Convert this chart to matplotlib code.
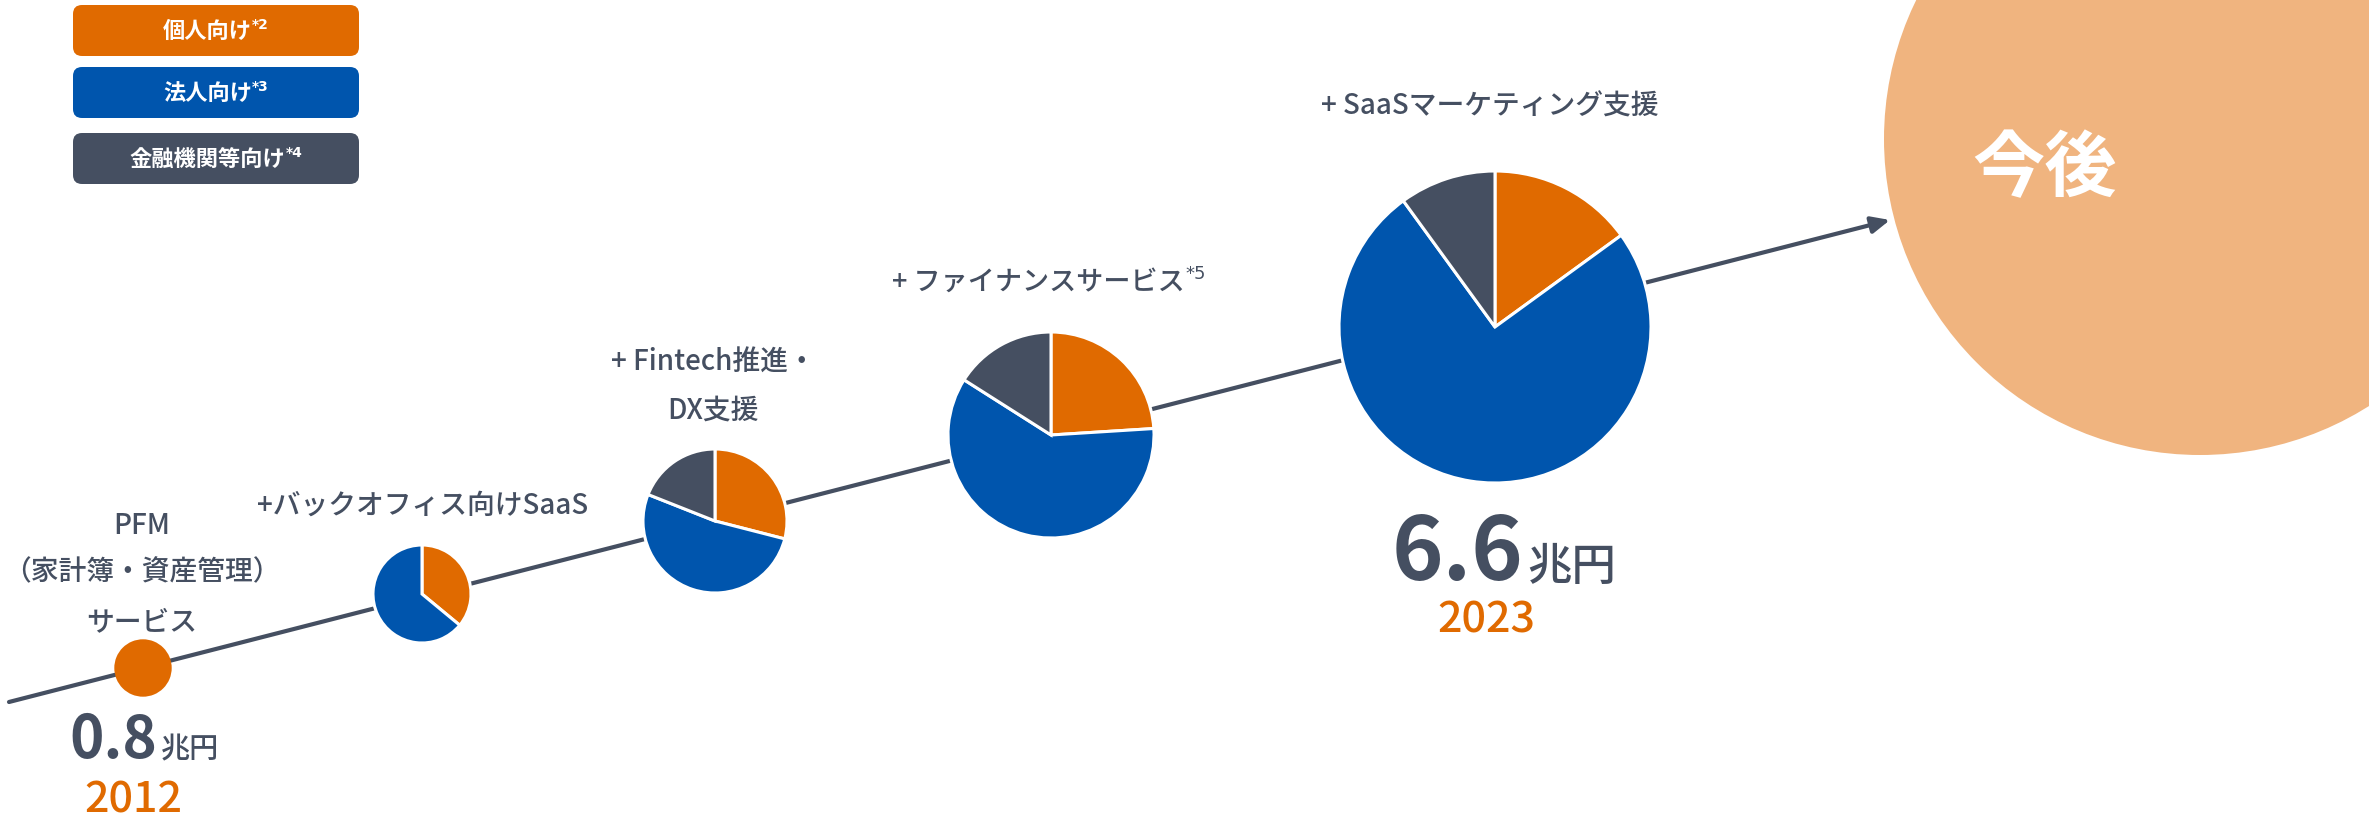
import matplotlib
matplotlib.use("Agg")
import matplotlib.pyplot as plt
from matplotlib.patches import FancyBboxPatch, Circle

plt.rcParams['font.family'] = ['Noto Sans CJK JP', 'DejaVu Sans']

# ---------------- data ----------------
categories = ["個人向け", "法人向け", "金融機関等向け"]
category_notes = ["*2", "*3", "*4"]
stage_labels = ["PFM\n（家計簿・資産管理）\nサービス",
                "+バックオフィス向けSaaS",
                "+ Fintech推進・\nDX支援",
                "+ ファイナンスサービス",
                "+ SaaSマーケティング支援"]
stage_notes = ["", "", "", "*5", ""]
share_personal = [100, 36, 29, 24, 15]
share_corporate = [0, 64, 52, 60, 75]
share_financial = [0, 0, 19, 16, 10]
years = ["2012", "2023"]
market_size = ["0.8", "6.6"]
market_unit = "兆円"
future_label = "今後"

# ---------------- style / layout ----------------
ORANGE = "#E06A00"
BLUE = "#0055AD"
GRAY = "#454F61"
LIGHT = "#F0B47F"
TEXT = "#454F61"
colors = [ORANGE, BLUE, GRAY]

W, H = 2369, 828
fig = plt.figure(figsize=(W / 100, H / 100), dpi=100)
ax = fig.add_axes([0, 0, 1, 1])
renderer = fig.canvas.get_renderer()

pie_centers = [(143, 669), (422, 595), (715, 522), (1051, 436), (1495, 328)]
pie_radii = [28.7, 49, 72, 103, 156]
label_pos = [[(142, 526), (142, 572), (142, 622)],
             [(423, 505)],
             [(713, 362), (713, 410)],
             [(1049, 282)],
             [(1490, 106)]]
label_sizes = [20, 20, 20, 19.5, 20]
future_center, future_r = (2200, 140), 316

# trend line with arrow
ax.annotate("", xy=(1890, 221), xytext=(9, 703),
            arrowprops=dict(arrowstyle="-|>,head_length=0.55,head_width=0.25",
                            color=GRAY, lw=3.0, shrinkA=0, shrinkB=0,
                            mutation_scale=20), zorder=1)

# future circle
ax.add_patch(Circle(future_center, future_r, facecolor=LIGHT, edgecolor="none", zorder=2))
ax.text(2045, 170, future_label, color="white", fontsize=52, fontweight="bold",
        ha="center", va="center", zorder=3)

# pies
for i, (c, r) in enumerate(zip(pie_centers, pie_radii)):
    vals = [share_personal[i], share_corporate[i], share_financial[i]]
    vv = [v for v in vals if v > 0]
    cc = [colors[k] for k, v in enumerate(vals) if v > 0]
    lw = 0 if len(vv) == 1 else 2.2
    ax.pie(vv, colors=cc, center=c, radius=r, startangle=-90, counterclock=True,
           frame=True,
           wedgeprops=dict(edgecolor="white", linewidth=lw, zorder=4))


def text_with_sup(x, y, main, sup, size, color, weight, sup_size=None, zorder=5):
    sup_size = sup_size or size * 0.6
    t = ax.text(x, y, main, fontsize=size, color=color, fontweight=weight,
                ha="left", va="center", zorder=zorder)
    if not sup:
        t.set_ha("center")
        return
    s = ax.text(x, y, sup, fontsize=sup_size, color=color, fontweight=weight,
                ha="left", va="center", zorder=zorder, family=["DejaVu Sans"])
    wm = t.get_window_extent(renderer).width
    ws = s.get_window_extent(renderer).width
    total = wm + ws
    x0 = x - total / 2
    t.set_x(x0)
    s.set_x(x0 + wm)
    s.set_y(y - size * 1.39 * 0.28)


# stage labels
for i, lab in enumerate(stage_labels):
    lines = lab.split("\n")
    for j, (ln, pos) in enumerate(zip(lines, label_pos[i])):
        note = stage_notes[i] if j == len(lines) - 1 else ""
        text_with_sup(pos[0], pos[1], ln, note, label_sizes[i], TEXT, "medium", sup_size=13)

# legend boxes
box_y = [6, 68, 134]
for k, (cat, note) in enumerate(zip(categories, category_notes)):
    ax.add_patch(FancyBboxPatch((73, box_y[k]), 286, 51,
                                boxstyle="round,pad=0,rounding_size=9",
                                facecolor=colors[k], edgecolor="none", zorder=3))
    text_with_sup(216, box_y[k] + 25.5, cat, note, 16, "white", "bold", sup_size=10)

# market sizes
amount_pos = [(157, 758), (1523, 580)]
amount_size = [42, 63]
unit_size = [21, 32]
year_pos = [(133, 800), (1486, 620)]
for i in range(2):
    x, y = amount_pos[i]
    ax.text(x, y, market_size[i], fontsize=amount_size[i], color=TEXT,
            fontweight="bold", ha="right", va="baseline", zorder=5)
    ax.text(x + 4, y, market_unit, fontsize=unit_size[i], color=TEXT,
            fontweight="medium", ha="left", va="baseline", zorder=5)
    ax.text(year_pos[i][0], year_pos[i][1], years[i], fontsize=31, color=ORANGE,
            fontweight="medium", ha="center", va="center", zorder=5)

ax.set_aspect("auto")
ax.set_xlim(0, W)
ax.set_ylim(H, 0)
ax.axis("off")
fig.savefig("out.png", dpi=100, facecolor="white")
